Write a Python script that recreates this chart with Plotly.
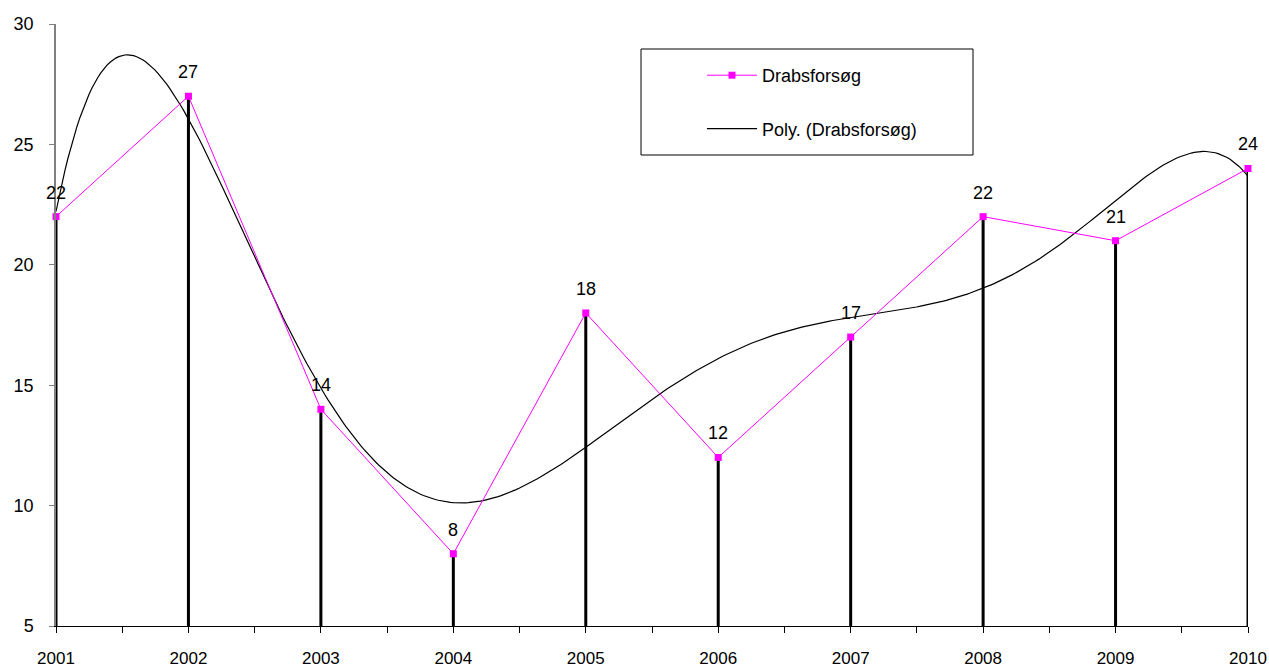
import numpy as np
import plotly.graph_objects as go

years = [2001, 2002, 2003, 2004, 2005, 2006, 2007, 2008, 2009, 2010]
values = [22, 27, 14, 8, 18, 12, 17, 22, 21, 24]
series_name = "Drabsforsøg"
trend_name = "Poly. (Drabsforsøg)"
y_ticks = [5, 10, 15, 20, 25, 30]

# Polynomial (order 6) trendline fitted to the data, as the spreadsheet does
idx = np.arange(1, len(values) + 1)
coef = np.polyfit(idx, values, 6)
xs = np.linspace(1, len(values), 400)
trend_x = years[0] + (xs - 1)
trend_y = np.polyval(coef, xs)

base = y_ticks[0]
drop_x, drop_y = [], []
for yr, v in zip(years, values):
    drop_x += [yr, yr, None]
    drop_y += [base, v, None]

W, H = 1269, 668
L, T = 56, 24
PW, PH = 1192, 602

def px(x):
    return (x - L) / PW

def py(y):
    return (T + PH - y) / PH

font = "Liberation Sans, Arial, sans-serif"
fig = go.Figure()
fig.add_trace(go.Scatter(x=drop_x, y=drop_y, mode="lines",
                         line=dict(color="black", width=3),
                         showlegend=False, hoverinfo="skip"))
fig.add_trace(go.Scatter(x=list(trend_x), y=list(trend_y), mode="lines",
                         line=dict(color="black", width=1.2),
                         name=trend_name, legendgroup="b", legendrank=2))
fig.add_trace(go.Scatter(x=years, y=values, mode="lines+markers",
                         line=dict(color="#FF00FF", width=1),
                         marker=dict(symbol="square", size=7, color="#FF00FF"),
                         cliponaxis=False,
                         name=series_name, legendgroup="a", legendrank=1))

for yr, v in zip(years, values):
    fig.add_annotation(x=yr, y=v, text=str(v), showarrow=False,
                       yanchor="middle", xanchor="center", yshift=24,
                       font=dict(family=font, size=18, color="black"))

fig.update_layout(
    width=W, height=H,
    margin=dict(l=L, r=W - L - PW, t=T, b=H - T - PH, autoexpand=False),
    paper_bgcolor="white", plot_bgcolor="white",
    font=dict(family=font, size=18, color="black"),
    legend=dict(x=px(702), y=py(57), xanchor="left", yanchor="top",
                bgcolor="rgba(0,0,0,0)", borderwidth=0, itemwidth=50,
                traceorder="grouped", tracegroupgap=27,
                font=dict(family=font, size=18)),
    shapes=[dict(type="rect", xref="paper", yref="paper",
                 x0=px(641), x1=px(973), y0=py(155), y1=py(49),
                 line=dict(color="black", width=1), fillcolor="rgba(0,0,0,0)")],
)
fig.update_xaxes(range=[years[0], years[-1]], tickvals=years,
                 ticktext=[str(y) for y in years], automargin=False,
                 tickfont=dict(size=17),
                 showline=True, linecolor="black", linewidth=1,
                 ticks="outside", ticklen=6, tickcolor="black",
                 minor=dict(dtick=0.5, tick0=years[0], ticks="outside", ticklen=6, tickcolor="black"),
                 showgrid=False, zeroline=False, ticklabelstandoff=11)
fig.update_yaxes(range=[y_ticks[0], y_ticks[-1]], tickvals=y_ticks, automargin=False,
                 showline=True, linecolor="#808080", linewidth=1.5,
                 ticks="outside", ticklen=5, tickcolor="#808080",
                 showgrid=False, zeroline=False, ticklabelstandoff=12)

fig.write_html("out.html", config={"displayModeBar": False},
               post_script="document.body.style.margin='0';document.body.style.overflow='hidden';")
